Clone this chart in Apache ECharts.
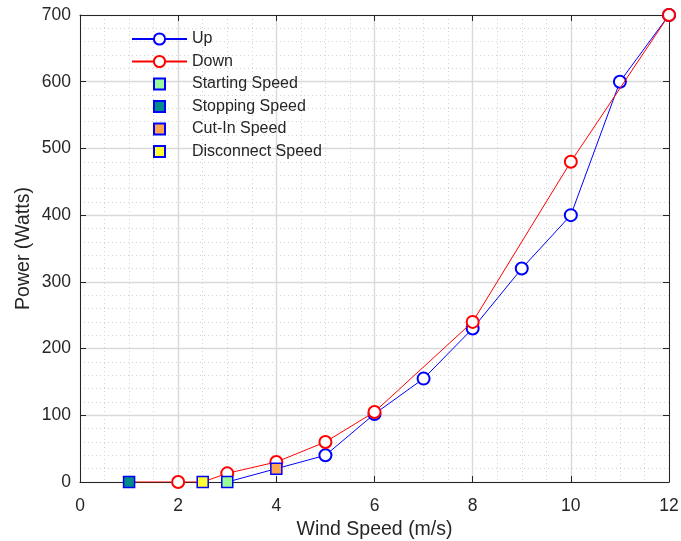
<!DOCTYPE html>
<html>
<head>
<meta charset="utf-8">
<script src="https://cdn.jsdelivr.net/npm/echarts@6/dist/echarts.min.js"></script>
<style>
html, body { margin: 0; padding: 0; background: #fff; }
#chart { width: 681px; height: 541px; }
</style>
</head>
<body>
<div id="chart"></div>
<script>
// wind speed (m/s) / power (W)
const upSpeed = [3, 4, 5, 6, 7, 8, 9, 10, 11, 12];
const upPower = [0, 20, 40, 102, 155, 230, 320, 400, 600, 700];
const downSpeed = [1, 2, 2.5, 3, 4, 5, 6, 8, 10, 12];
const downPower = [0, 0, 0, 13, 30, 60, 105, 240, 480, 700];
// points hidden under the square markers
const upHidden = [3, 4];
const downHidden = [1, 2.5];

const markNames = ['Starting Speed', 'Stopping Speed', 'Cut-In Speed', 'Disconnect Speed'];
const markSpeed = [3, 1, 4, 2.5];
const markPower = [0, 0, 20, 0];
const markColors = ['#98fb98', '#008b8b', '#ffa54f', '#ffff33'];

const xTicks = [0, 2, 4, 6, 8, 10, 12];
const yTicks = [0, 100, 200, 300, 400, 500, 600, 700];

const textColor = '#262626';
const font = 'Liberation Sans, Arial';

function lineData(xs, ys, hidden) {
    return xs.map(function (x, i) {
        const item = { value: [x, ys[i]] };
        if (hidden.indexOf(x) >= 0) { item.symbol = 'none'; }
        return item;
    });
}

const chart = echarts.init(document.getElementById('chart'), null, { renderer: 'canvas' });

function valueAxis(pos, min, max, interval, minorSplits, showLabel, margin) {
    return {
        type: 'value',
        position: pos,
        min: min,
        max: max,
        interval: interval,
        axisLine: { show: true, onZero: false, lineStyle: { color: textColor, width: 1 } },
        axisTick: { show: true, inside: true, length: 6, lineStyle: { color: textColor } },
        axisLabel: { show: showLabel, color: textColor, fontSize: 17.5, fontFamily: font, margin: margin },
        splitLine: { show: showLabel, lineStyle: { color: '#d9d9d9', width: 1.4 } },
        minorTick: { show: false, splitNumber: minorSplits },
        minorSplitLine: { show: showLabel, lineStyle: { color: '#d4d4d4', type: [1, 3], width: 1 } }
    };
}

const xBottom = valueAxis('bottom', xTicks[0], xTicks[xTicks.length - 1], 2, 4, true, 15);
xBottom.name = 'Wind Speed (m/s)';
xBottom.nameLocation = 'middle';
xBottom.nameGap = 37;
xBottom.nameTextStyle = { color: textColor, fontSize: 19.5, fontFamily: font };
const xTop = valueAxis('top', xTicks[0], xTicks[xTicks.length - 1], 2, 4, false, 8);

const yLeft = valueAxis('left', yTicks[0], yTicks[yTicks.length - 1], 100, 5, true, 9);
yLeft.name = 'Power (Watts)';
yLeft.nameLocation = 'middle';
yLeft.nameGap = 46;
yLeft.nameMoveOverlap = false;
yLeft.nameTextStyle = { color: textColor, fontSize: 19.5, fontFamily: font };
const yRight = valueAxis('right', yTicks[0], yTicks[yTicks.length - 1], 100, 5, false, 8);

const series = [
    {
        name: 'Up', type: 'line', xAxisIndex: 0, yAxisIndex: 0,
        data: lineData(upSpeed, upPower, upHidden),
        symbol: 'emptyCircle', symbolSize: 12,
        lineStyle: { color: '#0000ff', width: 1 },
        itemStyle: { color: '#0000ff', borderWidth: 1.1 },
        z: 3
    },
    {
        name: 'Down', type: 'line', xAxisIndex: 0, yAxisIndex: 0,
        data: lineData(downSpeed, downPower, downHidden),
        symbol: 'emptyCircle', symbolSize: 12,
        lineStyle: { color: '#ff0000', width: 1 },
        itemStyle: { color: '#ff0000', borderWidth: 1.1 },
        z: 4
    }
];
markNames.forEach(function (name, i) {
    series.push({
        name: name, type: 'scatter', xAxisIndex: 0, yAxisIndex: 0,
        data: [[markSpeed[i], markPower[i]]],
        symbol: 'rect', symbolSize: 11,
        itemStyle: { color: markColors[i], borderColor: '#0000ff', borderWidth: 1.5, opacity: 1 },
        z: 5
    });
});

// square icon padded inside a 14x14 box so it stays smaller than the row height
const squareIcon = 'path://M0,0L0,0M14,14L14,14M1.5,1.5H12.5V12.5H1.5Z';
const legendData = [{ name: 'Up' }, { name: 'Down' }].concat(markNames.map(function (n) {
    return { name: n, icon: squareIcon };
}));

chart.setOption({
    animation: false,
    backgroundColor: '#fff',
    grid: { left: 80, right: 12, top: 15, bottom: 59, containLabel: false, outerBoundsMode: 'none' },
    legend: {
        data: legendData,
        orient: 'vertical',
        left: 131,
        top: 31,
        padding: 0,
        itemWidth: 55,
        itemHeight: 14,
        itemGap: 6.5,
        symbolKeepAspect: true,
        textStyle: { color: textColor, fontSize: 16, fontFamily: font },
        backgroundColor: 'transparent'
    },
    xAxis: [xBottom, xTop],
    yAxis: [yLeft, yRight],
    series: series
});
</script>
</body>
</html>
